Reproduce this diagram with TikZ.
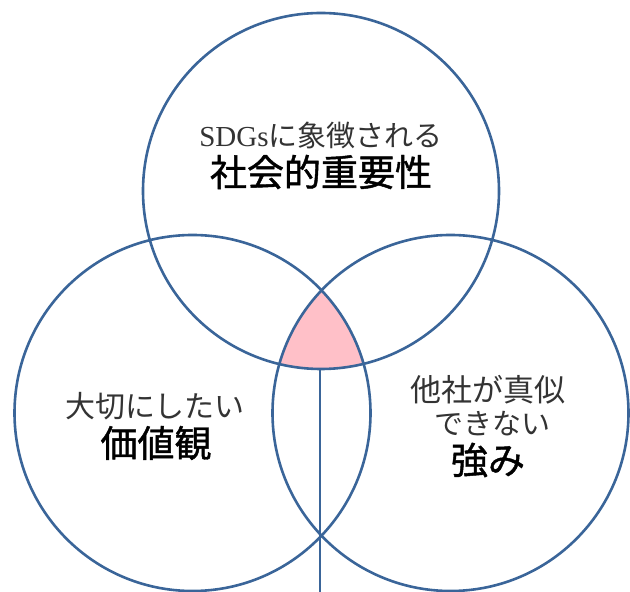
\documentclass[tikz,border=0pt]{standalone}
\usepackage{fontspec}
\setmainfont{Liberation Serif}
\newfontfamily\jp{Noto Sans CJK JP}
\definecolor{ringblue}{RGB}{58,101,153}
\definecolor{corepink}{RGB}{255,192,200}
\tikzset{
  ring/.style={circle, draw=ringblue, line width=2.6pt, minimum size=356pt, inner sep=0pt},
  small/.style={inner sep=0pt, text=black!80, font=\fontsize{29}{32}\selectfont},
  big/.style={inner sep=0pt, text=black, font=\jp\addfontfeature{FakeBold=1.2}\fontsize{37}{40}\selectfont},
  stem/.style={draw=ringblue, line width=2pt}
}
\begin{document}
\begin{tikzpicture}[x=1pt,y=1pt]
\useasboundingbox (0,0) rectangle (630,592);
% pink core
\begin{scope}
  \clip (321,401) circle (178);
  \clip (192.5,179) circle (178);
  \fill[corepink] (450.5,179) circle (178);
\end{scope}
\node[ring] (top) at (321,401) {};
\node[ring] (left) at (192.5,179) {};
\node[ring] (right) at (450.5,179) {};
\coordinate (base) at (319.5,0);
\draw[stem] (top.south -| base) -- (base);
% texts
\node[small] (t1) at (321,457) {SDGs{\jp に象徴される}};
\node[big] (t2) at (321,420) {社会的重要性};
\node[small, font=\jp\fontsize{30}{32}\selectfont] (l1) at (155,186) {大切にしたい};
\node[big] (l2) at (156,149) {価値観};
\node[small, font=\jp\fontsize{31}{32}\selectfont] (r1) at (488,202) {他社が真似};
\node[small, font=\jp\fontsize{29}{32}\selectfont] (r2) at (492,168) {できない};
\node[big] (r3) at (488,132) {強み};
\end{tikzpicture}
\end{document}
